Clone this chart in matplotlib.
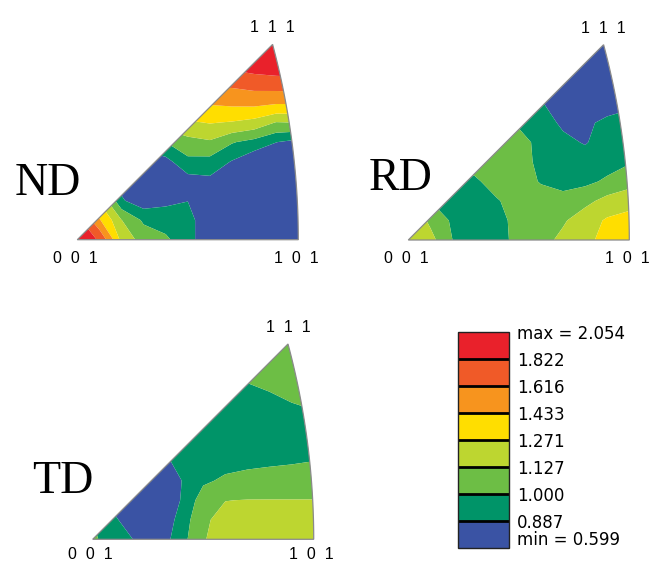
"""Inverse pole figures (ND, RD, TD) drawn as filled contour maps in the
stereographic standard triangle 001-101-111, with a shared stepped legend."""
import numpy as np
import matplotlib
matplotlib.use("Agg")
import matplotlib.pyplot as plt
from matplotlib.cm import ScalarMappable
from matplotlib.colors import BoundaryNorm, ListedColormap
from matplotlib.patches import PathPatch
from matplotlib.path import Path
from matplotlib.transforms import ScaledTranslation

# contour levels (times random) and the band colours between them
levels = [0.599, 0.887, 1.000, 1.127, 1.271, 1.433, 1.616, 1.822, 2.054]
level_labels = ["min = 0.599", "0.887", "1.000", "1.127", "1.271",
                "1.433", "1.616", "1.822", "max = 2.054"]
band_colors = ["#3a53a4", "#009468", "#6dbe45", "#bdd630",
               "#ffde00", "#f7941e", "#f05a28", "#e9212b"]

# sample grid: s = fraction of the 001->101 distance, t = fraction of the 111 height
s_frac = [0.0, 0.1, 0.2, 0.3, 0.4, 0.5, 0.6, 0.7, 0.8, 0.9, 1.0]
t_frac = [0.0, 0.1, 0.2, 0.3, 0.4, 0.5, 0.6, 0.7, 0.8, 0.9, 1.0]

# density, one row per t (bottom row first)
nd_density = [
    [2.05, 1.79, 1.22, 1.07, 1.02, 0.93, 0.80, 0.70, 0.65, 0.63, 0.63],
    [1.90, 1.45, 1.13, 0.98, 0.95, 0.93, 0.80, 0.70, 0.65, 0.63, 0.63],
    [1.60, 1.25, 0.90, 0.82, 0.86, 0.885, 0.78, 0.70, 0.65, 0.63, 0.63],
    [1.40, 1.10, 0.85, 0.78, 0.78, 0.84, 0.86, 0.76, 0.70, 0.68, 0.68],
    [1.20, 1.00, 0.85, 0.82, 0.85, 0.97, 0.96, 0.88, 0.80, 0.76, 0.74],
    [1.10, 1.00, 0.95, 0.95, 1.00, 1.08, 1.11, 1.01, 0.96, 0.89, 0.85],
    [1.10, 1.10, 1.10, 1.15, 1.20, 1.25, 1.28, 1.26, 1.22, 1.12, 1.13],
    [1.30, 1.30, 1.30, 1.35, 1.42, 1.45, 1.45, 1.47, 1.48, 1.45, 1.45],
    [1.50, 1.50, 1.50, 1.55, 1.62, 1.65, 1.65, 1.66, 1.70, 1.72, 1.73],
    [1.80, 1.80, 1.80, 1.80, 1.82, 1.85, 1.85, 1.90, 1.95, 1.98, 2.00],
    [2.00, 2.00, 2.00, 2.00, 2.00, 2.00, 2.00, 2.05, 2.05, 2.05, 2.05],
]
rd_density = [
    [1.21, 1.17, 1.00, 0.93, 0.95, 1.04, 1.08, 1.16, 1.24, 1.31, 1.34],
    [1.25, 1.10, 0.98, 0.93, 0.96, 1.04, 1.08, 1.11, 1.20, 1.29, 1.32],
    [1.10, 1.00, 0.94, 0.93, 0.99, 1.05, 1.06, 1.05, 1.09, 1.17, 1.22],
    [1.00, 0.97, 0.95, 0.98, 1.05, 1.06, 0.99, 0.95, 0.97, 1.02, 1.07],
    [1.05, 1.05, 1.05, 1.05, 1.06, 1.05, 0.97, 0.93, 0.93, 0.95, 0.99],
    [1.06, 1.06, 1.06, 1.06, 1.06, 1.05, 0.96, 0.91, 0.88, 0.93, 0.93],
    [1.05, 1.05, 1.05, 1.05, 1.05, 0.98, 0.93, 0.87, 0.86, 0.92, 0.94],
    [0.95, 0.95, 0.95, 0.95, 0.95, 0.92, 0.90, 0.80, 0.78, 0.82, 0.86],
    [0.85, 0.85, 0.85, 0.85, 0.85, 0.85, 0.82, 0.76, 0.74, 0.76, 0.78],
    [0.80, 0.80, 0.80, 0.80, 0.80, 0.80, 0.78, 0.74, 0.72, 0.72, 0.74],
    [0.75, 0.75, 0.75, 0.75, 0.75, 0.75, 0.75, 0.72, 0.70, 0.70, 0.70],
]
td_density = [
    [1.02, 0.94, 0.875, 0.82, 0.95, 1.12, 1.17, 1.18, 1.19, 1.19, 1.19],
    [1.00, 0.90, 0.82, 0.81, 0.92, 1.11, 1.16, 1.18, 1.19, 1.19, 1.19],
    [0.85, 0.85, 0.82, 0.82, 0.89, 1.06, 1.125, 1.13, 1.13, 1.13, 1.13],
    [0.82, 0.82, 0.82, 0.82, 0.885, 0.98, 1.02, 1.04, 1.05, 1.05, 1.05],
    [0.85, 0.85, 0.85, 0.85, 0.92, 0.95, 0.96, 0.97, 0.98, 0.99, 1.00],
    [0.93, 0.93, 0.93, 0.93, 0.93, 0.94, 0.94, 0.94, 0.95, 0.95, 0.95],
    [0.93, 0.93, 0.93, 0.93, 0.93, 0.93, 0.93, 0.93, 0.93, 0.94, 0.95],
    [0.93, 0.93, 0.93, 0.93, 0.93, 0.93, 0.93, 0.93, 0.95, 1.00, 1.03],
    [0.95, 0.95, 0.95, 0.95, 0.95, 0.96, 0.97, 1.00, 1.04, 1.06, 1.07],
    [1.05, 1.05, 1.05, 1.05, 1.05, 1.05, 1.05, 1.06, 1.07, 1.07, 1.07],
    [1.08, 1.08, 1.08, 1.08, 1.08, 1.08, 1.08, 1.08, 1.08, 1.08, 1.08],
]

# stereographic positions of the triangle corners
X101 = np.sqrt(2) - 1
X111 = Y111 = 1 / (np.sqrt(3) + 1)

W, H = 652, 563
PX = 221 / X101          # pixels per stereographic unit
PAD = 0.02

plt.rcParams["font.family"] = "Liberation Sans"


def triangle_path():
    # 001 -> 101 along the bottom, great circle 101 -> 111, back to 001
    ang = np.linspace(0, np.arctan2(Y111, 1 + X111), 60)
    verts = [(0.0, 0.0)] + list(zip(np.sqrt(2) * np.cos(ang) - 1,
                                    np.sqrt(2) * np.sin(ang))) + [(0.0, 0.0)]
    return Path(verts, closed=True)


def add_panel(fig, ox, oy, density, name, name_xy, low=23):
    """ox, oy: pixel position of the 001 corner."""
    ax = fig.add_axes([(ox - PAD * PX) / W, (H - oy - PAD * PX) / H,
                       (X101 + 2 * PAD) * PX / W, (Y111 + 2 * PAD) * PX / H])
    ax.set_xlim(-PAD, X101 + PAD)
    ax.set_ylim(-PAD, Y111 + PAD)
    ax.axis("off")

    X, Y = np.meshgrid(np.array(s_frac) * X101, np.array(t_frac) * Y111)
    cs = ax.contourf(X, Y, np.array(density), levels=levels, colors=band_colors,
                     antialiased=True)
    edge = PathPatch(triangle_path(), facecolor="none", edgecolor="#8a8a8a", lw=0.9)
    ax.add_patch(edge)
    cs.set_clip_path(edge)

    lab = dict(textcoords="offset pixels", ha="center", va="baseline",
               fontsize=11.5, annotation_clip=False)
    ax.annotate("0  0  1", (0, 0), xytext=(-2, -low), **lab)
    ax.annotate("1  0  1", (X101, 0), xytext=(-2, -low), **lab)
    ax.annotate("1  1  1", (X111, Y111), xytext=(0, 12), **lab)

    fig.text(name_xy[0] / W, 1 - name_xy[1] / H, name, ha="center", va="baseline",
             fontsize=33, family="Liberation Serif")
    return cs


fig = plt.figure(figsize=(W / 100, H / 100), dpi=100)

add_panel(fig, 77.3, 239.7, nd_density, "ND", (47.5, 195))
add_panel(fig, 408.3, 240.0, rd_density, "RD", (401, 190))
add_panel(fig, 92.7, 539.3, td_density, "TD", (63, 493), low=20)

# stepped legend
cax = fig.add_axes([458.3 / W, (H - 548.4) / H, 50.7 / W, 216.7 / H])
sm = ScalarMappable(norm=BoundaryNorm(levels, len(band_colors)),
                    cmap=ListedColormap(band_colors))
cb = fig.colorbar(sm, cax=cax, ticks=levels, drawedges=True)
cb.ax.set_yticklabels(level_labels, family="DejaVu Sans")
cb.ax.tick_params(length=0, pad=6, labelsize=12)
cb.dividers.set_color("black")
cb.dividers.set_linewidth(2)
cb.outline.set_edgecolor("#222222")
cb.outline.set_linewidth(1)
min_lab = cb.ax.get_yticklabels()[0]
min_lab.set_transform(min_lab.get_transform()
                      + ScaledTranslation(0, 10 / 100, fig.dpi_scale_trans))

fig.savefig("out.png", dpi=100)
